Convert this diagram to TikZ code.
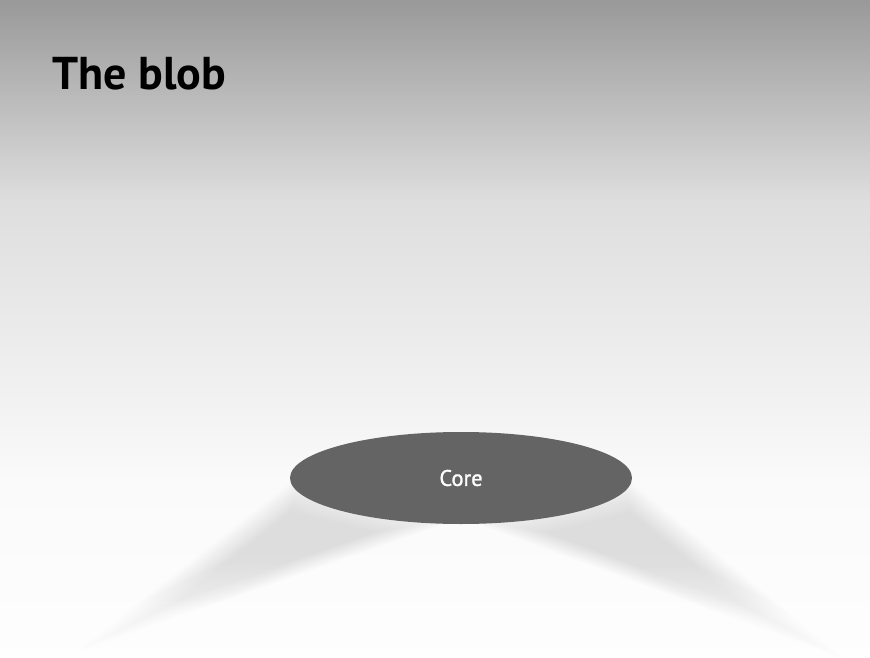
\documentclass[tikz,border=0pt]{standalone}
\usepackage{fontspec}
\setmainfont{PT Sans}
\newfontfamily\corefont[FakeBold=1.2]{PT Sans}
\usetikzlibrary{calc,shapes.geometric}
\definecolor{coreg}{HTML}{646464}
\begin{document}
\begin{tikzpicture}[x=1pt,y=-1pt,
  shadowlayer/.style={fill opacity=0.008, top color=black, bottom color=black!35, draw=none},
  corebox/.style={ellipse, fill=coreg, draw=none, minimum width=342pt, minimum height=92pt, inner sep=0pt, text=white, font=\corefont\fontsize{22.5}{22.5}\selectfont},
  titletext/.style={anchor=base west, inner sep=0pt, font=\fontsize{46}{46}\selectfont\bfseries}]
\useasboundingbox (0,0) rectangle (870,658);
\shade[top color=black!40, bottom color=black!13] (0,0) rectangle (870,200.5);
\shade[top color=black!13, bottom color=black!2] (0,200) rectangle (870,480.5);
\shade[top color=black!2, bottom color=black!0.5] (0,480) rectangle (870,658);
% left shadow
\coordinate (LA) at (298,484);
\coordinate (LB) at (445,520);
\coordinate (LT) at (100,640);
\coordinate (LC) at (282,548);
\foreach \f in {-0.14,-0.10,...,0.44} {
  \shade[shadowlayer] ($(LA)!\f!(LC)$) -- ($(LB)!\f!(LC)$) -- ($(LT)!\f!(LC)$) -- cycle;
}
% right shadow
\coordinate (RA) at (624,484);
\coordinate (RB) at (478,520);
\coordinate (RT) at (820,646);
\coordinate (RC) at (640,550);
\foreach \f in {-0.14,-0.10,...,0.44} {
  \shade[shadowlayer] ($(RA)!\f!(RC)$) -- ($(RB)!\f!(RC)$) -- ($(RT)!\f!(RC)$) -- cycle;
}
\node[corebox] (core) at (461,478) {Core};
\node[titletext] (title) at (52,90) {The blob};
\end{tikzpicture}
\end{document}
